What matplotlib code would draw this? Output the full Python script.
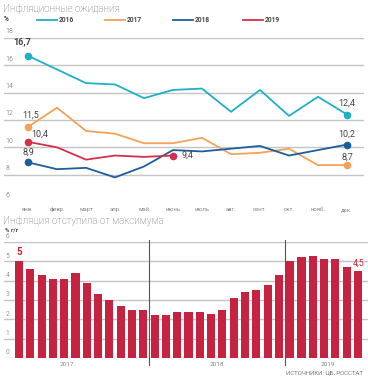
import matplotlib
matplotlib.use("Agg")
import matplotlib.pyplot as plt
import numpy as np

plt.rcParams['font.family'] = ['Roboto', 'DejaVu Sans']

W, H = 368, 380

months = ["янв.", "февр.", "март", "апр.", "май", "июнь",
          "июль", "авг.", "сент.", "окт.", "нояб.", "дек."]

exp_2016 = [16.7, 15.7, 14.7, 14.6, 13.6, 14.2, 14.3, 12.6, 14.2, 12.3, 13.7, 12.4]
exp_2017 = [11.5, 12.9, 11.2, 11.0, 10.3, 10.3, 10.7, 9.5, 9.6, 9.9, 8.7, 8.7]
exp_2018 = [8.9, 8.4, 8.5, 7.8, 8.6, 9.8, 9.7, 9.9, 10.1, 9.4, 9.8, 10.2]
exp_2019 = [10.4, 10.0, 9.1, 9.4, 9.3, 9.4]

cpi_2017 = [5.0, 4.6, 4.3, 4.1, 4.1, 4.4, 3.9, 3.3, 3.0, 2.7, 2.5, 2.5]
cpi_2018 = [2.2, 2.2, 2.4, 2.4, 2.4, 2.3, 2.5, 3.1, 3.4, 3.5, 3.8, 4.3]
cpi_2019 = [5.0, 5.2, 5.3, 5.1, 5.1, 4.7, 4.5]

years = ["2017", "2018", "2019"]

C16 = "#1fb0c6"
C17 = "#f3a25a"
C18 = "#1d5f9c"
C19 = "#d3304c"
BAR = "#c5233f"
GRID = "#c4c4c4"
TXT = "#444444"


def fx(x):
    return x / W


def fy(y):
    return 1 - y / H


fig = plt.figure(figsize=(W / 100, H / 100), dpi=100)
fig.patch.set_facecolor("white")

# ---------- top chart: inflation expectations ----------
ax1 = fig.add_axes([fx(4), fy(202), (364 - 4) / W, (202 - 38) / H])
ax1.set_xlim(-24 / 29, 11 + 17 / 29)
ax1.set_ylim(6, 18)
for v in [8, 10, 12, 14, 16, 18]:
    ax1.axhline(v, color=GRID, lw=1.0, zorder=0)
for s in ax1.spines.values():
    s.set_visible(False)
ax1.set_xticks([])
ax1.set_yticks([])
ax1.patch.set_alpha(0)

for v in [6, 8, 10, 12, 14, 16, 18]:
    ax1.annotate(str(v), (-24 / 29, v), xytext=(1, 2.0), textcoords="offset points",
                 fontsize=5, color="#999999", va="bottom", ha="left")

series = [(exp_2016, C16, "2016"), (exp_2017, C17, "2017"),
          (exp_2018, C18, "2018"), (exp_2019, C19, "2019")]
for vals, col, lab in series:
    xs = np.arange(len(vals))
    ax1.plot(xs, vals, color=col, lw=1.3, zorder=3)
    ax1.plot([xs[0], xs[-1]], [vals[0], vals[-1]], "o", color=col, ms=4.5, zorder=4)

def lab(ax, x, y, s, dx, dy, col=TXT, ha="center", size=6.5, weight="normal"):
    ax.annotate(s, (x, y), xytext=(dx * 0.72, dy * 0.72), textcoords="offset points",
                ha=ha, va="center", fontsize=size, color=col, weight=weight)

lab(ax1, 0, exp_2016[0], "16,7", -6, 14, weight="bold")
lab(ax1, 0, exp_2017[0], "11,5", 3, 12)
lab(ax1, 0, exp_2019[0], "10,4", 12, 8)
lab(ax1, 0, exp_2018[0], "8,9", 0, 10)
lab(ax1, 5, exp_2019[-1], "9,4", 8, 0, ha="left")
lab(ax1, 11, exp_2016[-1], "12,4", 0, 11)
lab(ax1, 11, exp_2018[-1], "10,2", 0, 10)
lab(ax1, 11, exp_2017[-1], "8,7", 0, 8)

for i, m in enumerate(months):
    ax1.annotate(m, (i, 6), xytext=(0, -6.5), textcoords="offset points",
                 ha="center", va="baseline", fontsize=4.2, color="#888888")

# legend
leg_x = [37, 105, 173, 243]
for (vals, col, name), lx in zip(series, leg_x):
    fig.add_artist(plt.Line2D([fx(lx), fx(lx + 20)], [fy(20), fy(20)], color=col, lw=1.3))
    fig.text(fx(lx + 22), fy(20), name, fontsize=4.8, color=TXT, va="center",
             weight="bold")

fig.text(fx(3), fy(8.5), "Инфляционные ожидания", fontsize=7.0, color="#666666",
         va="center", ha="left", weight="light")
fig.text(fx(4), fy(19), "%", fontsize=4.8, color=TXT, va="center", weight="bold")

# ---------- bottom chart: CPI ----------
cpi = cpi_2017 + cpi_2018 + cpi_2019
ax2 = fig.add_axes([fx(4), fy(358), (368 - 4) / W, (358 - 242) / H])
ax2.set_xlim(-15 / 11.3, 30 + 10 / 11.3)
ax2.set_ylim(0, 6)
for v in range(7):
    ax2.axhline(v, color=GRID, lw=1.0, zorder=0)
    ax2.annotate(str(v), (-15 / 11.3, v), xytext=(1, 1.2), textcoords="offset points",
                 fontsize=4.8, color="#999999", va="bottom", ha="left")
for s in ax2.spines.values():
    s.set_visible(False)
ax2.set_xticks([])
ax2.set_yticks([])
ax2.patch.set_alpha(0)

xb = np.arange(len(cpi))
ax2.bar(xb, cpi, width=0.72, color=BAR, zorder=3)

for xd in [11.5, 23.5]:
    ax2.plot([xd, xd], [-0.35, 6.1], color="#555555", lw=0.8, clip_on=False, zorder=4)

for name, xpos in zip(years, [4.2, 17.5, 27.3]):
    ax2.annotate(name, (xpos, 0), xytext=(0, -4.5), textcoords="offset points",
                 ha="center", va="center", fontsize=4.6, color="#888888")

lab(ax2, 0, cpi[0], "5", 0, 9, col=BAR, size=7, weight="bold")
lab(ax2, len(cpi) - 1, cpi[-1], "4,5", 1, 8, col=BAR, size=6.5)

fig.text(fx(3), fy(221), "Инфляция отступила от максимума", fontsize=7.0,
         color="#666666", va="center", ha="left", weight="light")
fig.text(fx(5), fy(230), "% г/г", fontsize=4.3, color=TXT, va="center", weight="bold")
fig.text(fx(363), fy(373), "ИСТОЧНИКИ: ЦБ, РОССТАТ", fontsize=4.3, color="#777777",
         va="center", ha="right")

fig.savefig("out.png", dpi=100)
